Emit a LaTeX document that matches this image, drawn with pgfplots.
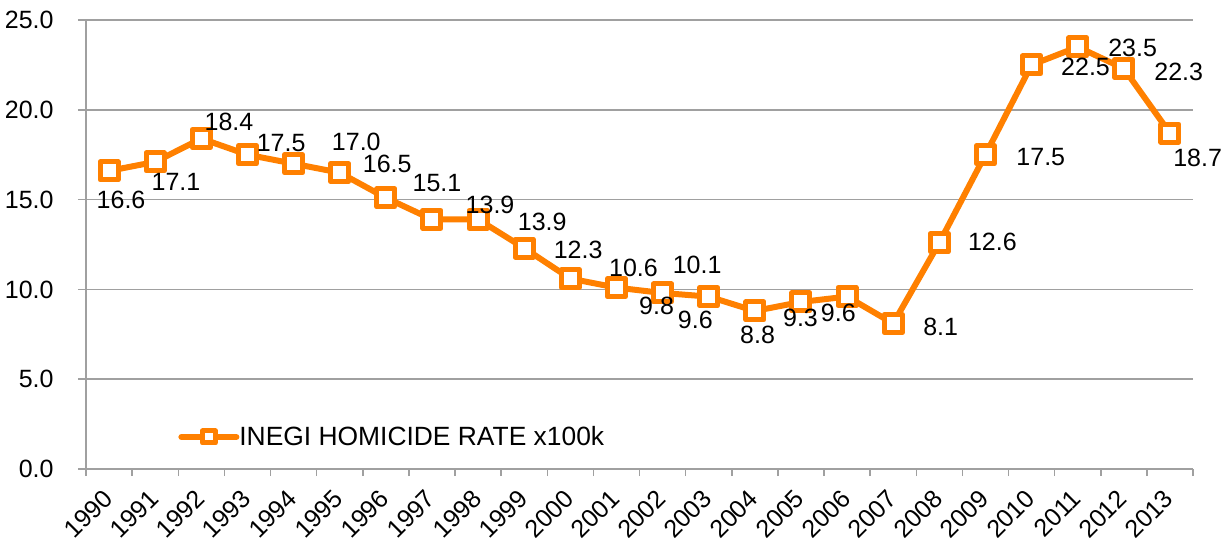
\documentclass[border=0pt]{standalone}
\usepackage{pgfplots}
\pgfplotsset{compat=1.18}
\usepackage{pgfplotstable}
\usepackage{fontspec}
\setmainfont{Liberation Sans}
\definecolor{xlorange}{RGB}{255,128,0}
\definecolor{gridgray}{RGB}{160,160,160}

\pgfplotstableread{
x y
0 16.6
1 17.1
2 18.4
3 17.5
4 17.0
5 16.5
6 15.1
7 13.9
8 13.9
9 12.3
10 10.6
11 10.1
12 9.8
13 9.6
14 8.8
15 9.3
16 9.6
17 8.1
18 12.6
19 17.5
20 22.5
21 23.5
22 22.3
23 18.7
}\rates

\pgfplotstableread{
lx ly lab
0.26 14.98 16.6
1.45 15.98 17.1
2.60 19.32 18.4
3.73 18.15 17.5
5.36 18.21 17.0
6.03 16.98 16.5
7.11 15.92 15.1
8.26 14.70 13.9
9.39 13.75 13.9
10.17 12.19 12.3
11.37 11.19 10.6
12.75 11.36 10.1
11.87 9.08 9.8
12.71 8.30 9.6
14.06 7.46 8.8
14.99 8.41 9.3
15.81 8.69 9.6
18.03 7.91 8.1
19.15 12.64 12.6
20.20 17.37 17.5
21.17 22.38 22.5
22.19 23.44 23.5
23.19 22.10 22.3
23.60 17.32 18.7
}\labels

\begin{document}
\begin{tikzpicture}
\useasboundingbox (0,0) rectangle (615.5pt,271pt);
\begin{axis}[
  at={(43pt,36.5pt)}, anchor=south west,
  scale only axis, width=553.5pt, height=224.5pt,
  clip=false,
  xmin=-0.5, xmax=23.5, ymin=0, ymax=25,
  axis x line*=bottom, axis y line*=left,
  axis line style={draw=gridgray, line width=0.75pt, -},
  xtick={0,...,23},
  xticklabels={1990,1991,1992,1993,1994,1995,1996,1997,1998,1999,2000,2001,2002,2003,2004,2005,2006,2007,2008,2009,2010,2011,2012,2013},
  minor xtick={-0.5,0.5,...,23.5},
  major x tick style={draw=none},
  minor x tick style={draw=gridgray, line width=0.75pt},
  ytick={0,5,...,25},
  ytick style={draw=gridgray, line width=0.75pt},
  tick align=outside,
  major tick length=4pt,
  minor tick length=3.5pt,
  ymajorgrids,
  major grid style={draw=gridgray, line width=0.75pt},
  /pgf/number format/assume math mode=true,
  yticklabel={\pgfmathprintnumber[fixed,fixed zerofill,precision=1]{\tick}},
  tick label style={font=\fontsize{12.5}{15}\selectfont, text=black},
  xticklabel style={inner sep=0pt, anchor=east, yshift=-8.5pt, xshift=-0.5pt, rotate=45},
  yticklabel style={anchor=east, inner sep=0pt, xshift=-12pt},
  legend style={draw=none, fill=none, at={(0.0831,0.0713)}, anchor=west, inner sep=0pt,
    font=\fontsize{13.2}{15}\selectfont, nodes={inner sep=0pt}, column sep=0pt},
]
\addplot[xlorange, line width=3pt, line join=round, mark=square*, mark size=4.5pt,
  mark options={fill=white, draw=xlorange, line width=2.5pt, line join=round},
  legend image code/.code={
    \draw[xlorange, line width=3pt, line cap=round] (0pt,0pt) -- (27.5pt,0pt);
    \draw[xlorange, fill=white, line width=2.5pt, line join=round] (10.5pt,-3pt) rectangle (17pt,3pt);
  }] table[x=x,y=y]{\rates};
\addlegendentry{INEGI HOMICIDE RATE x100k}
\addplot[forget plot, only marks, mark=none, nodes near coords, point meta=explicit symbolic,
  every node near coord/.append style={anchor=center, inner sep=0pt, text=black,
    font=\fontsize{12.5}{15}\selectfont}] table[x=lx, y=ly, meta=lab]{\labels};
\end{axis}
\end{tikzpicture}
\end{document}
